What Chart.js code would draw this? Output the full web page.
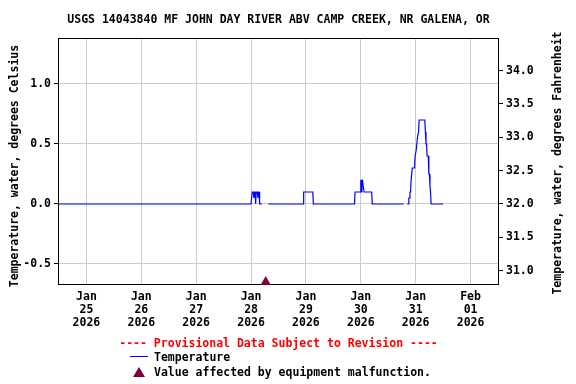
<!DOCTYPE html>
<html>
<head>
<meta charset="utf-8">
<script src="https://cdn.jsdelivr.net/npm/chart.js@4/dist/chart.umd.min.js"></script>
<style>
  body { margin:0; width:576px; height:384px; position:relative; overflow:hidden; background:#fff; }
  .t { position:absolute; font-family:'DejaVu Sans Mono','Liberation Mono',monospace; font-weight:bold; font-size:11.5px; line-height:14px; white-space:nowrap; color:#000; }
</style>
</head>
<body>
<canvas id="c" width="576" height="384" style="position:absolute;left:0;top:0"></canvas>
<div class="t" style="left:59px;width:439px;top:12px;text-align:center">USGS 14043840 MF JOHN DAY RIVER ABV CAMP CREEK, NR GALENA, OR</div>
<div class="t" style="left:-136px;width:300px;top:159px;text-align:center;transform:rotate(-90deg)">Temperature, water, degrees Celsius</div>
<div class="t" style="left:407px;width:300px;top:156px;text-align:center;transform:rotate(-90deg)">Temperature, water, degrees Fahrenheit</div>
<div class="t" style="left:59px;width:439px;top:336px;text-align:center;color:#ff0000">---- Provisional Data Subject to Revision ----</div>
<div style="position:absolute;left:130px;top:356px;width:18px;height:0;border-top:1px solid #0000ff"></div>
<div class="t" style="left:154px;top:350px">Temperature</div>
<div style="position:absolute;left:133px;top:367px;width:0;height:0;border-left:6px solid transparent;border-right:6px solid transparent;border-bottom:10px solid #800040"></div>
<div class="t" style="left:154px;top:365px">Value affected by equipment malfunction.</div>
<script>
// hours since Jan 25 2026 00:00
const hours = [-12, 72.0, 72.25, 72.5, 73.0, 73.25, 73.5, 73.75, 74.0, 74.25, 74.75, 75.0, 75.25, 75.5, 75.75, 76.75, 77.5, 79.5,
  94.75, 95.0, 99.0, 99.25,
  117.25, 117.5, 119.75, 120.0, 120.25, 120.5, 120.75, 121.0, 121.25, 121.5, 124.75, 125.0,
  138.75, 139.5, 140.25, 140.75, 141.0, 141.25, 141.5, 141.75, 142.0, 142.25, 142.5, 143.5, 143.75, 144.0, 144.25, 144.5,
  144.75, 145.0, 145.25, 145.5, 148.0, 148.25, 148.5, 148.75, 149.0, 149.5, 149.75, 150.0, 150.25, 150.5, 150.75, 156.0];
const tempC = [0, 0, 0, 0.1, 0.1, 0.05, 0.1, 0.1, 0, 0.1, 0.1, 0.05, 0.1, 0.1, 0, 0, null, 0,
  0, 0.1, 0.1, 0,
  0, 0.1, 0.1, 0.2, 0.1, 0.2, 0.2, 0.15, 0.15, 0.1, 0.1, 0,
  0, null, 0, 0, 0.05, 0.05, 0.1, 0.1, 0.2, 0.2, 0.3, 0.3, 0.4, 0.4, 0.45, 0.45,
  0.55, 0.55, 0.6, 0.7, 0.7, 0.6, 0.5, 0.5, 0.4, 0.4, 0.25, 0.25, 0.15, 0.1, 0, 0];
const malfunctionHours = [78.4];
const malfunctionC = [-0.65];
const tickHours = [0, 24, 48, 72, 96, 120, 144, 168];
const tickMonths = ['Jan','Jan','Jan','Jan','Jan','Jan','Jan','Feb'];
const tickDays = ['25','26','27','28','29','30','31','01'];
const tickYears = ['2026','2026','2026','2026','2026','2026','2026','2026'];

const FONT = { family: "'DejaVu Sans Mono','Liberation Mono',monospace", weight: 'bold', size: 11.5, lineHeight: '13px' };
const cMin = -0.6667, cMax = 1.375;

const borderPlugin = {
  id: 'frame',
  beforeDatasetsDraw(chart) {
    const a = chart.chartArea, ctx = chart.ctx;
    ctx.save();
    ctx.strokeStyle = '#000';
    ctx.lineWidth = 1;
    ctx.strokeRect(Math.round(a.left) - 0.5, Math.round(a.top) - 0.5, Math.round(a.right - a.left) + 1, Math.round(a.bottom - a.top) + 1);
    ctx.restore();
  }
};

new Chart(document.getElementById('c'), {
  type: 'line',
  data: {
    datasets: [
      {
        label: 'Temperature',
        data: hours.map((h, i) => ({ x: h, y: tempC[i] })),
        borderColor: '#0000ff',
        borderWidth: 1.2,
        pointRadius: 0,
        spanGaps: false,
        tension: 0,
        yAxisID: 'y'
      },
      {
        label: 'Value affected by equipment malfunction.',
        type: 'scatter',
        data: malfunctionHours.map((h, i) => ({ x: h, y: malfunctionC[i] })),
        pointStyle: 'triangle',
        pointRadius: 6,
        backgroundColor: '#800040',
        borderColor: '#800040',
        borderWidth: 0,
        clip: false,
        yAxisID: 'y'
      }
    ]
  },
  options: {
    responsive: false,
    devicePixelRatio: 1,
    animation: false,
    layout: { padding: { top: 39, left: 0, right: 0, bottom: 0 } },
    plugins: { legend: { display: false }, title: { display: false }, tooltip: { enabled: false } },
    scales: {
      x: {
        type: 'linear',
        position: 'bottom',
        min: -12, max: 180,
        afterFit(s) { s.height = 100; },
        afterBuildTicks(s) { s.ticks = tickHours.map(v => ({ value: v })); },
        grid: { color: '#cccccc', drawTicks: false, lineWidth: 1 },
        border: { display: false },
        ticks: {
          autoSkip: false, maxRotation: 0,
          padding: 7, color: '#000', font: FONT,
          callback(v) { const i = tickHours.indexOf(v); return [tickMonths[i], tickDays[i], tickYears[i]]; }
        }
      },
      y: {
        type: 'linear',
        position: 'left',
        min: cMin, max: cMax,
        afterFit(s) { s.width = 59; },
        grid: { color: '#cccccc', tickColor: '#000', tickLength: 5, lineWidth: 1 },
        border: { display: false },
        ticks: { stepSize: 0.5, includeBounds: false, padding: 3, color: '#000', font: FONT,
          callback(v) { return v.toFixed(1); } }
      },
      yF: {
        type: 'linear',
        position: 'right',
        min: cMin * 1.8 + 32, max: cMax * 1.8 + 32,
        afterFit(s) { s.width = 78; },
        grid: { drawOnChartArea: false, tickColor: '#000', tickLength: 5 },
        border: { display: false },
        ticks: { stepSize: 0.5, includeBounds: false, padding: 3, color: '#000', font: FONT,
          callback(v) { return v.toFixed(1); } }
      }
    }
  },
  plugins: [borderPlugin]
});
</script>
</body>
</html>
